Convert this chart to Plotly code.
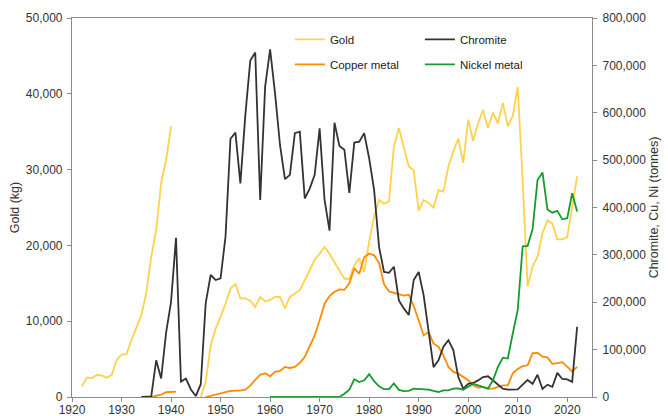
import plotly.graph_objects as go

# ---------------- data ----------------
gold_years = list(range(1922, 2023))
gold_kg = [1400, 2550, 2500, 2900, 2850, 2550, 2900, 4850, 5600, 5650,
           7500, 9200, 10800, 13700, 18500, 22000, 28200, 31300, 35700,
           None, None, None, None, None,
           0, 2000, 6800, 9000, 10600, 12300, 14300, 14900, 13000, 13000,
           12700, 11900, 13200, 12600, 12800, 13200, 13200, 11700, 13200, 13600,
           14100, 15400, 16700, 18100, 18900, 19800, 18900, 17800, 16700, 15600,
           15600, 17400, 18300, 16500, 20500, 23800, 26000, 25500, 25800, 33000,
           35500, 33000, 30400, 29900, 24600, 26000, 25600, 25000, 27300, 27100,
           30400, 32400, 34100, 30900, 36600, 33800, 36100, 37900, 35500, 37500,
           36100, 38800, 35700, 37100, 40900, 28500, 14600, 17200, 18500, 21600,
           23300, 22900, 20800, 20800, 21100, 25100, 29100]

chromite_years = list(range(1934, 2023))
chromite_t = [0, 0, 1400, 77500, 39000, 136000, 201000, 336000, 32500, 39000,
              16000, 2000, 27000, 198000, 257500, 247000, 250500, 338500, 545000, 558000,
              451000, 595000, 710000, 727000, 416000, 655000, 734000, 641000, 532000, 460000,
              469000, 557000, 560000, 419000, 440000, 469000, 567000, 416000, 351000, 579000,
              530000, 522000, 431000, 537000, 539000, 557000, 504000, 437000, 317000, 264000,
              262000, 275000, 204000, 187000, 173000, 247000, 264000, 215000, 137000, 63000,
              77500, 106000, 120000, 99000, 42000, 17600, 28000, 29600, 35000, 42000,
              43700, 35000, 28000, 17600, 15500, 15500, 16000, 26000, 36000, 27500,
              47000, 17000, 26000, 21500, 51000, 38000, 37000, 32000, 148000]

copper_years = list(range(1936, 2023))
copper_t = [0, 2500, 5000, 10000, 11000, 11500,
            None, None, None, None, None,
            0, 2800, 4900, 8500, 10600, 12700, 13500, 13500, 15500, 24000,
            36000, 47000, 50000, 43700, 52900, 55000, 63400, 61300, 63400, 71900,
            84600, 109000, 130000, 162000, 197000, 213000, 222000, 227000, 226000, 240000,
            272000, 260000, 295000, 303000, 299000, 283000, 238000, 223000, 220000, 217000,
            214000, 216000, 192000, 162000, 130000, 137000, 113000, 106000, 88000, 63400,
            53000, 49300, 42300, 35200, 24700, 19700, 21100, 17600, 17600, 21100,
            24700, 24700, 50000, 59000, 65000, 67000, 92500, 93000, 85000, 83500,
            70000, 71500, 73500, 64000, 54000, 63500]

nickel_years = list(range(1960, 2023))
nickel_t = [0, 0, 0, 0, 0, 0, 0, 0, 0, 0, 0, 0, 0, 0, 0,
            7000, 15500, 37300, 31700, 35200, 47900, 33500, 22500, 16500, 16500,
            28500, 15000, 12500, 13000, 17600, 16900, 15500, 15500, 12700, 10600,
            14100, 14100, 17600, 18300, 15500, 21100, 28200, 24700, 21100, 17600,
            35200, 63400, 83000, 81100, 134000, 183500, 318000, 319000, 354000, 458000,
            474000, 396000, 389000, 393000, 375000, 377500, 430000, 391500]

x_ticks = list(range(1920, 2021, 10))

# ---------------- styles ----------------
FONT = "Liberation Sans, Arial, sans-serif"
AX = "#8c8c8c"
TXT = "#333333"
LW = 1.8

fig = go.Figure()
fig.add_trace(go.Scatter(x=gold_years, y=gold_kg, name="Gold", mode="lines",
                         line=dict(color="#FFD24D", width=LW), connectgaps=False,
                         legend="legend", legendgroup="g1"))
fig.add_trace(go.Scatter(x=copper_years, y=copper_t, name="Copper metal", mode="lines",
                         line=dict(color="#FF8C00", width=LW), connectgaps=False,
                         yaxis="y2", legend="legend", legendgroup="g2"))
fig.add_trace(go.Scatter(x=chromite_years, y=chromite_t, name="Chromite", mode="lines",
                         line=dict(color="#333333", width=LW), yaxis="y2",
                         legend="legend2", legendgroup="g3"))
fig.add_trace(go.Scatter(x=nickel_years, y=nickel_t, name="Nickel metal", mode="lines",
                         line=dict(color="#169B2C", width=LW), yaxis="y2",
                         legend="legend2", legendgroup="g4"))

fig.update_layout(
    width=668, height=416,
    margin=dict(l=72, r=76, t=18, b=19, autoexpand=False),
    paper_bgcolor="white", plot_bgcolor="white",
    font=dict(family=FONT, size=12, color=TXT),
    xaxis=dict(range=[1920, 2025], tickvals=x_ticks, ticks="outside", ticklen=4,
               tickcolor=AX, showline=True, linecolor=AX, linewidth=1.2, mirror=True,
               showgrid=False, zeroline=False, automargin=False,
               ticklabelstandoff=-3),
    yaxis=dict(range=[0, 50000], dtick=10000, tickformat=",", ticks="outside", ticklen=4,
               tickcolor=AX, showline=True, linecolor=AX, linewidth=1.2,
               showgrid=False, zeroline=False, automargin=False, ticklabelstandoff=2,
               title=dict(text="Gold (kg)", standoff=3, font=dict(size=12.5))),
    yaxis2=dict(range=[0, 800000], dtick=100000, tickformat=",", ticks="outside", ticklen=4,
                tickcolor=AX, showline=True, linecolor=AX, linewidth=1.2,
                overlaying="y", side="right", showgrid=False, zeroline=False,
                automargin=False, ticklabelstandoff=3,
                title=dict(text="Chromite, Cu, Ni (tonnes)", standoff=4, font=dict(size=12.5))),
    legend=dict(x=0.419, y=0.982, xanchor="left", yanchor="top", bgcolor="rgba(0,0,0,0)",
                tracegroupgap=6, itemwidth=30, font=dict(size=11.5, color="#222222")),
    legend2=dict(x=0.669, y=0.982, xanchor="left", yanchor="top", bgcolor="rgba(0,0,0,0)",
                 tracegroupgap=6, itemwidth=30, font=dict(size=11.5, color="#222222")),
)

fig.write_html("out.html")
